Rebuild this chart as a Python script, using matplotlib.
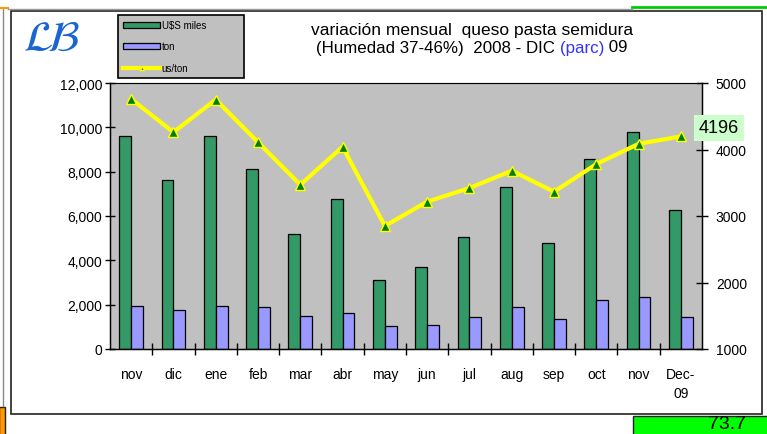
import numpy as np
import matplotlib
matplotlib.use('Agg')
import matplotlib.pyplot as plt
from matplotlib.patches import Rectangle
from matplotlib.lines import Line2D
from matplotlib.ticker import FuncFormatter

plt.rcParams['font.family'] = ['Liberation Sans', 'DejaVu Sans']

months = ['nov', 'dic', 'ene', 'feb', 'mar', 'abr', 'may', 'jun',
          'jul', 'aug', 'sep', 'oct', 'nov', 'Dec-\n09']
usd_miles = [9620, 7640, 9620, 8130, 5200, 6780, 3110,
             3690, 5050, 7290, 4780, 8570, 9800, 6270]
ton = [1960, 1760, 1960, 1900, 1480, 1610, 1040,
       1100, 1440, 1910, 1370, 2210, 2330, 1460]
us_ton = [4760, 4260, 4750, 4110, 3470, 4040, 2850,
          3215, 3420, 3680, 3365, 3780, 4085, 4196]
last_label = '4196'

W, H = 767, 435
fig = plt.figure(figsize=(W / 100, H / 100), dpi=100)

# background: sheet cells and chart frame (pixel coords)
bg = fig.add_axes([0, 0, 1, 1], zorder=-10)
bg.set_xlim(0, W)
bg.set_ylim(H, 0)
bg.axis('off')
bg.add_patch(Rectangle((11, 12), 751, 403, facecolor='white', edgecolor='#222222', lw=1.2))
bg.plot([3, 3], [10, 407], color='#888888', lw=1)
bg.plot([0, 8], [9, 9], color='#ff9900', lw=1.5)
bg.plot([8, 632], [10, 10], color='#999999', lw=1)
bg.plot([632, 767], [8, 8], color='#00cc00', lw=2)
bg.add_patch(Rectangle((-1, 408), 6, 30, facecolor='#ff9900', edgecolor='#222222', lw=1))
bg.add_patch(Rectangle((633, 417), 140, 30, facecolor='#00ff00', edgecolor='#222222', lw=1))
bg.text(746, 425, '73.7', ha='right', va='center', fontsize=14)
bg.text(52, 40, r'$\mathcal{L}\!\mathcal{B}$', ha='center', va='center', fontsize=31,
        math_fontfamily='stix', color='#1a66d0')

ax = fig.add_axes([110 / W, 1 - 350 / H, 592 / W, 266 / H])
ax.set_facecolor('#c0c0c0')
x = np.arange(len(months))
bw = 0.28
b1 = ax.bar(x - bw / 2, usd_miles, bw, color='#339966', edgecolor='black', lw=0.9, label='U$S miles')
b2 = ax.bar(x + bw / 2, ton, bw, color='#9999ff', edgecolor='black', lw=0.9, label='ton')
ax.set_xlim(-0.5, len(months) - 0.5)
ax.set_ylim(0, 12000)
ax.set_yticks(np.arange(0, 12001, 2000))
ax.yaxis.set_major_formatter(FuncFormatter(lambda v, p: f'{v:,.0f}'))
ax.tick_params(axis='y', direction='inout', length=7, width=1, pad=2, labelsize=10)
ax.set_xticks(x)
ax.set_xticklabels(months)
for t in ax.get_xticklabels():
    t.set_linespacing(1.45)
ax.set_xticks(np.arange(0.5, len(months) - 0.5, 1), minor=True)
ax.tick_params(axis='x', which='major', length=0, pad=13, labelsize=10)
ax.tick_params(axis='x', which='minor', direction='inout', length=9, width=1)
ax.spines['top'].set_color('#888888')
for s in ['left', 'bottom', 'right']:
    ax.spines[s].set_linewidth(1)

ax2 = ax.twinx()
ln, = ax2.plot(x, us_ton, color='#ffff00', lw=3, marker='^', ms=6.5,
               mfc='#008000', mec='#ffff00', mew=1, label='us/ton')
ax2.set_ylim(1000, 5000)
ax2.set_yticks(np.arange(1000, 5001, 1000))
ax2.tick_params(axis='y', direction='inout', length=8, width=1, pad=6, labelsize=10)

fig.text(719 / W, 1 - 129 / H, last_label, ha='center', va='center', fontsize=13,
         bbox=dict(boxstyle='square,pad=0.25', facecolor='#ccffcc', edgecolor='none'))

leg_handles = [Rectangle((0, 0), 1, 1, facecolor='#339966', edgecolor='black', lw=0.9),
               Rectangle((0, 0), 1, 1, facecolor='#9999ff', edgecolor='black', lw=0.9),
               Line2D([], [], color='#ffff00', lw=3, marker='^', ms=3, mfc='#008000', mec='#ffff00')]
leg = fig.legend(leg_handles, ['U$S miles', 'ton', 'us/ton'], loc='upper left',
                 bbox_to_anchor=(118 / W, 1 - 16 / H, 126 / W, 0.0001), mode='expand',
                 fontsize=7, labelspacing=1.15, borderpad=0.55, handlelength=3.8,
                 handleheight=0.5, handletextpad=0.15, numpoints=1, fancybox=False,
                 facecolor='#c0c0c0', edgecolor='black', framealpha=1, borderaxespad=0)
leg.get_frame().set_linewidth(1.2)

# title with blue "(parc)"
fig.text(472 / W, 1 - 31 / H, 'variación mensual  queso pasta semidura',
         ha='center', va='center', fontsize=12.5)
r = fig.canvas.get_renderer()
parts = [('(Humedad 37-46%)  2008 - DIC ', 'black'), ('(parc)', '#3333ff'), (' 09', 'black')]
texts = [fig.text(0, 1 - 48 / H, s, color=c, ha='left', va='center', fontsize=12.2) for s, c in parts]
widths = [t.get_window_extent(r).width for t in texts]
xs = 472 - sum(widths) / 2
for t, w in zip(texts, widths):
    t.set_x(xs / W)
    xs += w

fig.savefig('out.png', dpi=100, facecolor='white')
